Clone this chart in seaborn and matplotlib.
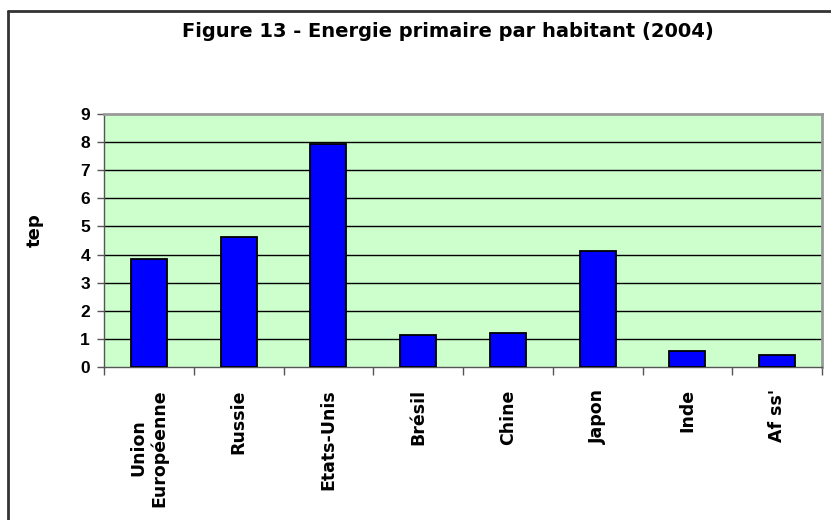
import matplotlib
matplotlib.use("Agg")
import matplotlib.pyplot as plt
import seaborn as sns
import pandas as pd
from matplotlib.lines import Line2D
from matplotlib.ticker import FixedLocator, NullFormatter

categories = ["Union\nEuropéenne", "Russie", "Etats-Unis", "Brésil", "Chine", "Japon", "Inde", "Af ss'"]
values = [3.83, 4.62, 7.94, 1.15, 1.22, 4.11, 0.58, 0.44]
yticks = list(range(0, 10))

title = "Figure 13 - Energie primaire par habitant (2004)"
ylabel = "tep"

sns.set_theme(style="white")
plt.rcParams['font.family'] = ['Liberation Sans', 'DejaVu Sans']
plt.rcParams['text.color'] = 'black'
plt.rcParams['xtick.color'] = 'black'
plt.rcParams['ytick.color'] = 'black'
plt.rcParams['axes.labelcolor'] = 'black'

W, H = 831, 520
df = pd.DataFrame({"pays": categories, "tep": values})

fig = plt.figure(figsize=(W / 100, H / 100), dpi=100)
L, R, T, B = 104, 822, 114, 367
ax = fig.add_axes([L / W, 1 - B / H, (R - L) / W, (B - T) / H])
ax.set_facecolor("#CCFFCC")

sns.barplot(data=df, x="pays", y="tep", color="#0000FF", edgecolor="black",
            linewidth=1.3, width=0.40, saturation=1, ax=ax, zorder=3)

ax.set_xlim(-0.5, len(categories) - 0.5)
ax.set_ylim(0, 9)
ax.set_yticks(yticks)
ax.set_yticklabels([str(t) for t in yticks], fontsize=12.5, fontweight="bold",
                   family="Liberation Sans")
for t in yticks[1:-1]:
    ax.axhline(t, color="black", linewidth=1.0, zorder=1)

ax.set_xticks(range(len(categories)))
ax.set_xticklabels(categories, rotation=90, fontsize=12.5, fontweight="bold",
                   family="DejaVu Sans", va="top", ha="center")
ax.tick_params(axis="x", which="major", length=0, pad=16)
ax.xaxis.set_minor_locator(FixedLocator([i - 0.5 for i in range(len(categories) + 1)]))
ax.xaxis.set_minor_formatter(NullFormatter())
ax.tick_params(axis="x", which="minor", length=6, width=1, color="#555555",
               direction="out", bottom=True)
ax.tick_params(axis="y", length=5, width=1, color="#555555", direction="out",
               left=True, pad=5)

for s in ["left", "bottom"]:
    ax.spines[s].set_color("#555555")
    ax.spines[s].set_linewidth(1.0)
for s in ["top", "right"]:
    ax.spines[s].set_color("#999999")
    ax.spines[s].set_linewidth(2.0)

ax.set_xlabel("")
ax.set_ylabel("")

fig.text(447.5 / W, 1 - 36.7 / H, title, ha="center", va="baseline",
         fontsize=14, fontweight="bold", family="DejaVu Sans")
fig.text(35 / W, 1 - 230 / H, ylabel, ha="center", va="center", rotation=90,
         fontsize=13, fontweight="bold", family="DejaVu Sans")

# outer frame (left and top edges visible)
fig.add_artist(Line2D([8 / W, 8 / W], [0, 1 - 11 / H], transform=fig.transFigure,
                      color="#333333", linewidth=2.0))
fig.add_artist(Line2D([8 / W, 1], [1 - 11 / H, 1 - 11 / H], transform=fig.transFigure,
                      color="#333333", linewidth=2.0))

fig.savefig("out.png", dpi=100, facecolor="white")
